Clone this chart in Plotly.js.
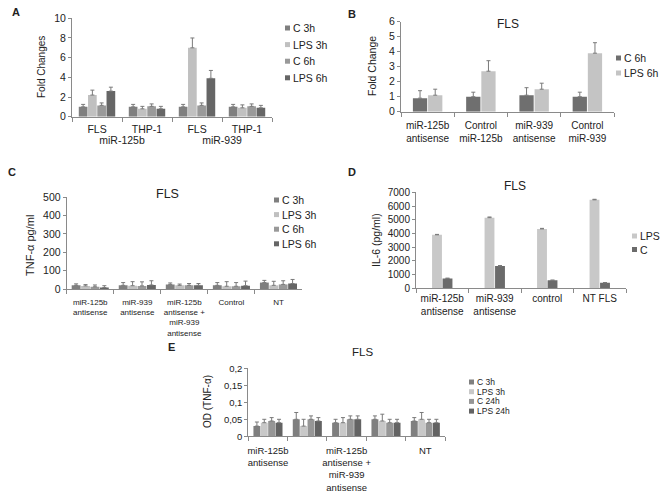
<!DOCTYPE html>
<html><head><meta charset="utf-8">
<script src="https://cdn.plot.ly/plotly-3.0.1.min.js"></script>
<style>html,body{margin:0;padding:0;background:#fff}#chart{width:662px;height:493px}</style>
</head><body><div id="chart"></div>
<script>
// ---------- Panel A ----------
const aMirna = ["miR-125b","miR-125b","miR-939","miR-939"];
const aCells = ["FLS","THP-1","FLS","THP-1"];
const aSeries = ["C 3h","LPS 3h","C 6h","LPS 6h"];
const aC3h = [1.0, 1.0, 1.0, 1.0];
const aC3hErr = [0.25, 0.25, 0.25, 0.25];
const aLPS3h = [2.2, 0.8, 7.0, 0.9];
const aLPS3hErr = [0.5, 0.25, 1.0, 0.3];
const aC6h = [1.15, 1.05, 1.15, 1.05];
const aC6hErr = [0.25, 0.25, 0.25, 0.25];
const aLPS6h = [2.6, 0.8, 3.9, 0.9];
const aLPS6hErr = [0.4, 0.25, 0.8, 0.25];

// ---------- Panel B ----------
const bCats = ["miR-125b<br>antisense","Control<br>miR-125b","miR-939<br>antisense","Control<br>miR-939"];
const bSeries = ["C 6h","LPS 6h"];
const bC6h = [0.9, 1.0, 1.1, 1.0];
const bC6hErr = [0.5, 0.3, 0.5, 0.3];
const bLPS6h = [1.1, 2.7, 1.5, 3.9];
const bLPS6hErr = [0.4, 0.7, 0.4, 0.7];

// ---------- Panel C ----------
const cCats = ["miR-125b<br>antisense","miR-939<br>antisense","miR-125b<br>antisense +<br>miR-939<br>antisense","Control","NT"];
const cSeries = ["C 3h","LPS 3h","C 6h","LPS 6h"];
const cC3h = [20, 20, 25, 20, 35];
const cC3hErr = [8, 15, 8, 15, 12];
const cLPS3h = [17, 18, 20, 15, 20];
const cLPS3hErr = [7, 22, 7, 25, 22];
const cC6h = [12, 17, 20, 15, 25];
const cC6hErr = [10, 22, 10, 20, 20];
const cLPS6h = [8, 22, 20, 18, 30];
const cLPS6hErr = [10, 23, 10, 25, 22];

// ---------- Panel D ----------
const dCats = ["miR-125b<br>antisense","miR-939<br>antisense","control","NT FLS"];
const dSeries = ["LPS","C"];
const dLPS = [3900, 5150, 4330, 6450];
const dLPSErr = [30, 50, 40, 40];
const dC = [720, 1630, 580, 400];
const dCErr = [20, 30, 20, 20];

// ---------- Panel E ----------
const eCats = ["miR-125b antisense","miR-939 antisense","miR-125b antisense + miR-939 antisense","Control","NT"];
const eTickText = ["miR-125b<br>antisense","","miR-125b<br>antisense +<br>miR-939<br>antisense","","NT"];
const eSeries = ["C 3h","LPS 3h","C 24h","LPS 24h"];
const eC3h = [0.03, 0.05, 0.04, 0.05, 0.045];
const eC3hErr = [0.012, 0.02, 0.01, 0.01, 0.01];
const eLPS3h = [0.04, 0.03, 0.04, 0.045, 0.05];
const eLPS3hErr = [0.01, 0.02, 0.015, 0.02, 0.02];
const eC24h = [0.045, 0.05, 0.05, 0.04, 0.04];
const eC24hErr = [0.01, 0.01, 0.01, 0.01, 0.01];
const eLPS24h = [0.04, 0.045, 0.05, 0.04, 0.04];
const eLPS24hErr = [0.01, 0.01, 0.01, 0.01, 0.01];
const eYTickVals = [0, 0.05, 0.1, 0.15, 0.2];
const eYTickText = ["0", "0,05", "0,1", "0,15", "0,2"];

// ---------- helpers ----------
const W = 662, H = 493;
const px = p => p / W;
const py = p => 1 - p / H;
const FONT = "Liberation Sans, Arial, sans-serif";
const TXT = "#222";
const AXC = "#8a8a8a";
const ERRC = "#7a7a7a";

function bars(x, ys, errs, names, colors, xa, ya, frac) {
  const n = ys.length, slot = frac / n, g = 0.06;
  return ys.map((y, i) => ({
    type: "bar", x: x, y: y, name: names[i], xaxis: xa, yaxis: ya,
    showlegend: false,
    width: slot * (1 - g),
    offset: -frac / 2 + i * slot + slot * g / 2,
    marker: { color: colors[i] },
    error_y: { type: "data", symmetric: false, array: errs[i], arrayminus: errs[i].map(() => 0),
               color: ERRC, thickness: 1, width: 2 },
    hoverinfo: "y"
  }));
}

const colA = ["#7f7f7f", "#c0c0c0", "#999999", "#666666"];
const colB = ["#6f6f6f", "#c4c4c4"];
const colD = ["#c8c8c8", "#6b6b6b"];
const colE = ["#7f7f7f", "#c8c8c8", "#969696", "#636363"];

let traces = [];
traces = traces.concat(bars([aMirna, aCells], [aC3h, aLPS3h, aC6h, aLPS6h],
  [aC3hErr, aLPS3hErr, aC6hErr, aLPS6hErr], aSeries, colA, "x", "y", 0.74));
traces = traces.concat(bars(bCats, [bC6h, bLPS6h], [bC6hErr, bLPS6hErr], bSeries, colB, "x2", "y2", 0.57));
traces = traces.concat(bars(cCats, [cC3h, cLPS3h, cC6h, cLPS6h],
  [cC3hErr, cLPS3hErr, cC6hErr, cLPS6hErr], cSeries, colA, "x3", "y3", 0.8));
traces = traces.concat(bars(dCats, [dLPS, dC], [dLPSErr, dCErr], dSeries, colD, "x4", "y4", 0.4));
traces = traces.concat(bars(eCats, [eC3h, eLPS3h, eC24h, eLPS24h],
  [eC3hErr, eLPS3hErr, eC24hErr, eLPS24hErr], eSeries, colE, "x5", "y5", 0.75));

function xax(x0, x1, anchor, fs, extra) {
  return Object.assign({
    domain: [px(x0), px(x1)], anchor: anchor, type: "category",
    showgrid: false, zeroline: false, showline: true, linecolor: AXC, linewidth: 1,
    ticks: "outside", ticklen: 4, tickcolor: AXC, tickson: "boundaries", tickangle: 0,
    tickfont: { family: FONT, size: fs, color: TXT }, fixedrange: true
  }, extra || {});
}
function yax(y0, y1, anchor, range, dtick, fs, extra) {
  return Object.assign({
    domain: [py(y1), py(y0)], anchor: anchor, range: range, dtick: dtick,
    showgrid: false, zeroline: false, showline: true, linecolor: AXC, linewidth: 1,
    ticks: "outside", ticklen: 3, tickcolor: AXC, exponentformat: "none",
    tickfont: { family: FONT, size: fs, color: TXT }, fixedrange: true
  }, extra || {});
}

const annotations = [];
const shapes = [];
function txt(x, y, t, size, opts) {
  annotations.push(Object.assign({
    xref: "paper", yref: "paper", x: px(x), y: py(y), text: t, showarrow: false,
    font: { family: FONT, size: size, color: TXT }, xanchor: "center", yanchor: "middle"
  }, opts || {}));
}
function legend(names, colors, x, y0, step, size) {
  names.forEach((nm, i) => {
    const y = y0 + i * step;
    shapes.push({ type: "rect", xref: "paper", yref: "paper",
      x0: px(x), x1: px(x + 5), y0: py(y + 2.5), y1: py(y - 2.5),
      fillcolor: colors[i], line: { width: 0 } });
    txt(x + 6, y, nm, size, { xanchor: "left" });
  });
}

// panel letters
txt(10, 12, "<b>A</b>", 11, { xanchor: "left" });
txt(346, 14, "<b>B</b>", 11, { xanchor: "left" });
txt(6, 172, "<b>C</b>", 11, { xanchor: "left" });
txt(346, 172, "<b>D</b>", 11, { xanchor: "left" });
txt(166, 347, "<b>E</b>", 11, { xanchor: "left" });

// y titles
txt(42, 67, "Fold Changes", 10, { textangle: -90 });
txt(372, 66, "Fold Change", 10.5, { textangle: -90 });
txt(30, 246, "TNF-α pg/ml", 11, { textangle: -90 });
txt(376, 240, "IL-6 (pg/ml)", 10.5, { textangle: -90 });
txt(207, 402, "OD (TNF-α)", 10, { textangle: -90 });

// panel titles
txt(508, 24, "FLS", 12);
txt(167, 194, "FLS", 12.5);
txt(515, 186, "FLS", 12);
txt(362, 352, "FLS", 11.5);

// legends
legend(aSeries, colA, 285, 28, 16.6, 10.5);
legend(bSeries, colB, 616, 58, 15, 10.5);
legend(cSeries, colA, 274, 200, 14.6, 10.5);
legend(dSeries, colD, 632, 236, 13.5, 10.5);
legend(eSeries, colE, 469, 382, 9.7, 8.5);

const layout = {
  width: W, height: H, margin: { l: 0, r: 0, t: 0, b: 0 },
  paper_bgcolor: "#fff", plot_bgcolor: "rgba(0,0,0,0)",
  barmode: "overlay", showlegend: false,
  font: { family: FONT, color: TXT },
  xaxis: xax(72, 272, "y", 10.5, { type: "multicategory", showdividers: false, ticklabelstandoff: 3 }),
  yaxis: yax(18.3, 116.7, "x", [0, 10], 2, 10.5),
  xaxis2: xax(401, 614, "y2", 10, { ticklabelstandoff: 4 }),
  yaxis2: yax(21.7, 111.7, "x2", [0, 6], 1, 10.5),
  xaxis3: xax(66.7, 302, "y3", 8, { ticklabelstandoff: 5 }),
  yaxis3: yax(197.3, 289, "x3", [0, 500], 100, 10.5),
  xaxis4: xax(416, 626, "y4", 10, { ticklabelstandoff: 1 }),
  yaxis4: yax(192.3, 288.3, "x4", [0, 7000], 1000, 10),
  xaxis5: xax(248.3, 445, "y5", 9.5, { tickmode: "array", tickvals: eCats, ticktext: eTickText, ticklabelstandoff: 5 }),
  yaxis5: yax(368.3, 436.3, "x5", [0, 0.2], null, 9.5, { tickmode: "array", tickvals: eYTickVals, ticktext: eYTickText }),
  annotations: annotations,
  shapes: shapes
};

Plotly.newPlot("chart", traces, layout, { staticPlot: true, displayModeBar: false });
</script>
</body></html>
